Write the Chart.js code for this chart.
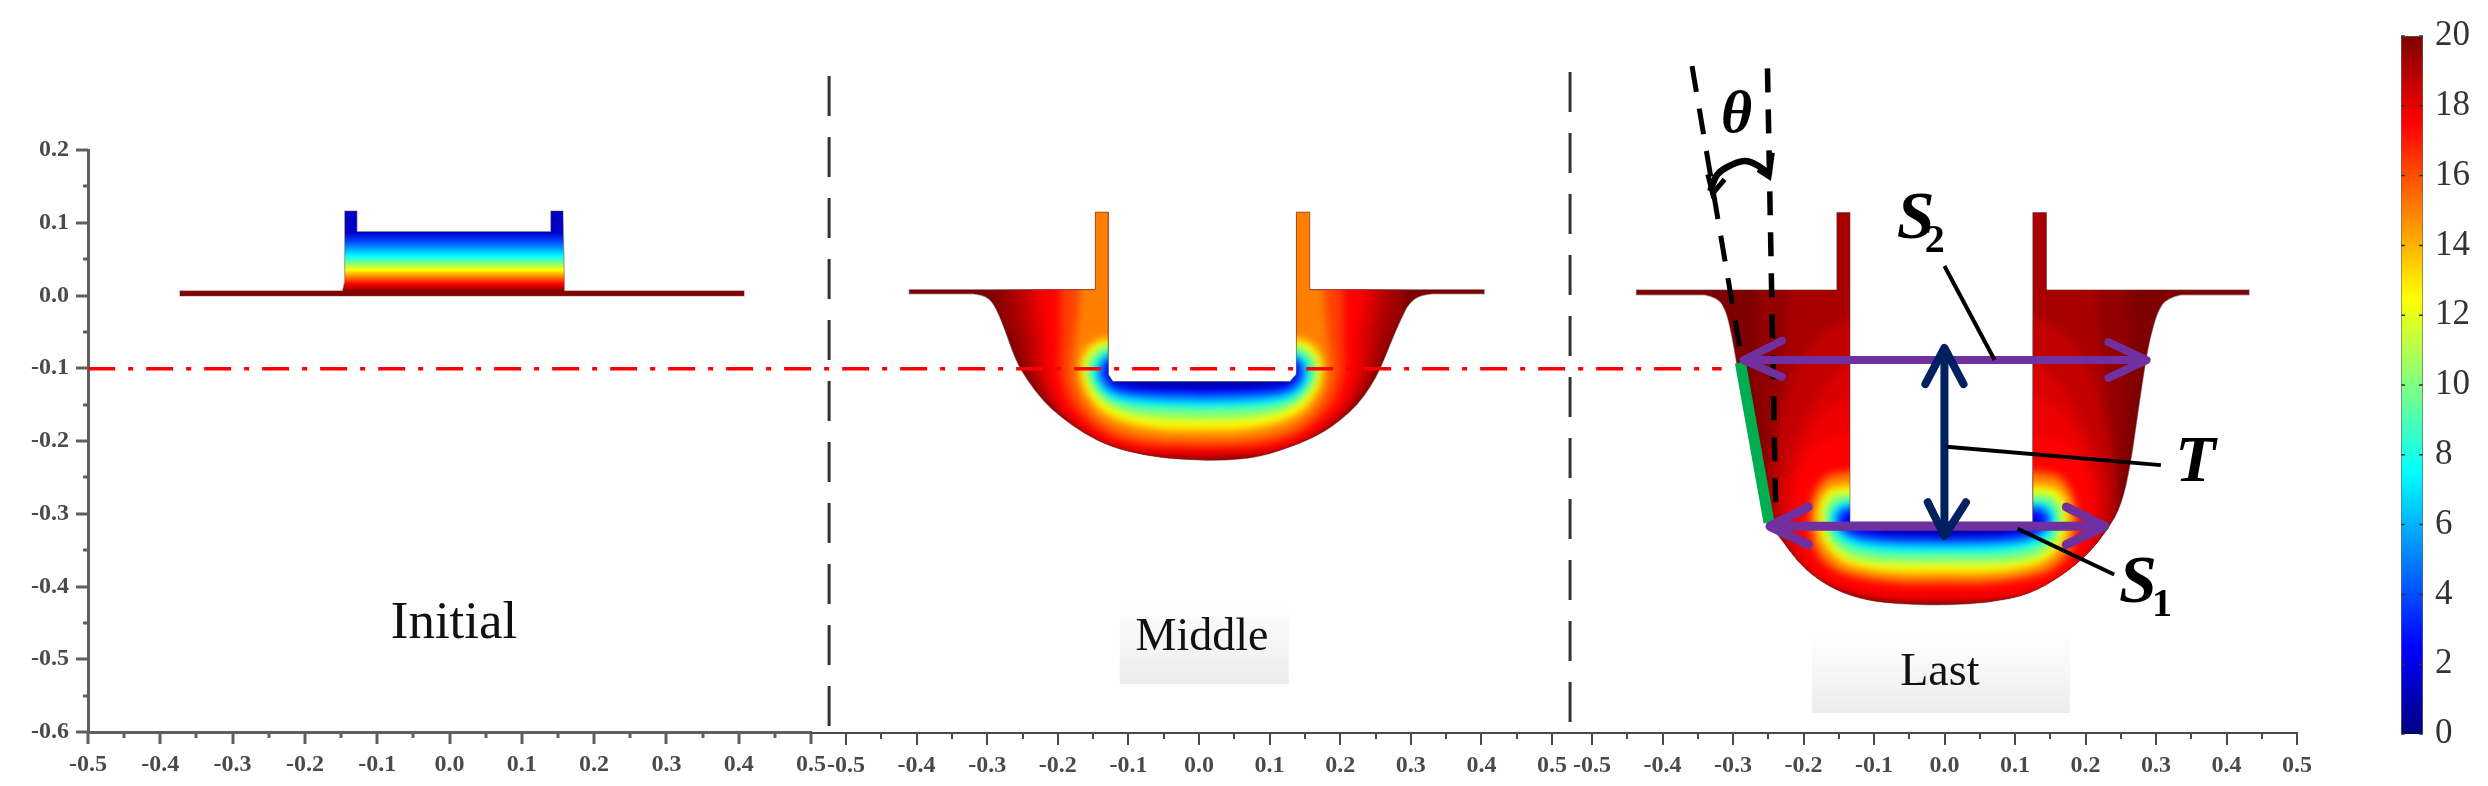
<!DOCTYPE html>
<html lang="en">

<head>
  <meta charset="UTF-8">
  <title>Initial, Middle, Last</title>
  <script src="https://cdn.jsdelivr.net/npm/chart.js@4/dist/chart.umd.min.js"></script>
  <style>
    html, body { margin: 0; background: #fff; }
    main { position: relative; width: 2488px; height: 786px; overflow: hidden; }
    canvas { position: absolute; left: 0; top: 0; }
  </style>
</head>

<body>
  <main id="app"></main>

  <script>
    // axis ticks
    const xTicks = [-0.5, -0.4, -0.3, -0.2, -0.1, 0, 0.1, 0.2, 0.3, 0.4, 0.5];
    const xMinor = [-0.45, -0.35, -0.25, -0.15, -0.05, 0.05, 0.15, 0.25, 0.35, 0.45];
    const yTicks = [-0.6, -0.5, -0.4, -0.3, -0.2, -0.1, 0, 0.1, 0.2];
    const yMinor = [-0.55, -0.45, -0.35, -0.25, -0.15, -0.05, 0.05, 0.15];
    const barTicks = [0, 2, 4, 6, 8, 10, 12, 14, 16, 18, 20];

    // colour bar, value -> colour
    const barStops = [0, 2.5, 5, 7.5, 10, 12.5, 15, 17.5, 20];
    const barColors = [[0, 0, 127], [0, 0, 255], [0, 128, 255], [0, 255, 255], [128, 255, 128],
      [255, 255, 0], [255, 128, 0], [255, 0, 0], [127, 0, 0]];

    // Initial: outline and the value at each height
    const initialRim = [[-0.373, -0.0006], [0.4075, -0.0006], [0.4075, 0.0064], [0.159, 0.0064], [0.159, 0.019],
      [0.157, 0.116], [0.14, 0.116], [0.14, 0.088], [-0.128, 0.088], [-0.128, 0.116], [-0.145, 0.116],
      [-0.145, 0.019], [-0.148, 0.0064], [-0.373, 0.0064]];
    const initialHeights = [0.116, 0.086, 0.0733, 0.054, 0.0446, 0.035, 0.0255, 0.016, 0.0064];
    const initialValues = [1.2, 1.5, 4, 7.5, 10, 12.5, 15, 17.5, 19.8];

    // Middle: curved bowl, straight rim, then left half contours as [half width, y]
    const middleBowl = [[-0.32, 0.0027], [-0.3048, 0.0014], [-0.2906, -0.01], [-0.2764, -0.0422], [-0.2599, -0.088], [-0.2434, -0.1155],
      [-0.2198, -0.1453], [-0.196, -0.1659], [-0.1631, -0.1888], [-0.1254, -0.2072], [-0.0781, -0.2187], [-0.031, -0.2242],
      [0.0304, -0.2265], [0.085, -0.2215], [0.1296, -0.2072], [0.1532, -0.1981], [0.1768, -0.1866], [0.2004, -0.1706], [0.224, -0.1499],
      [0.2429, -0.1247], [0.2571, -0.0995], [0.2712, -0.0651], [0.2854, -0.033], [0.2972, -0.01], [0.3138, 0.0014], [0.33, 0.0027]];
    const middleRim = [[0.404, 0.0027], [0.404, 0.0083], [0.157, 0.0083], [0.157, 0.1147], [0.138, 0.1147], [0.138, -0.108],
      [0.129, -0.118], [-0.122, -0.118], [-0.1286, -0.108], [-0.1286, 0.1147], [-0.1467, 0.1147], [-0.1467, 0.0083],
      [-0.4105, 0.0083], [-0.4105, 0.0027]];
    const mid194 = [[0.285, 0.2], [0.285, -0.02], [0.268, -0.06], [0.25, -0.1018], [0.226, -0.14], [0.197, -0.168], [0.158, -0.1945],
      [0.105, -0.214], [0, -0.2235]];
    const mid188 = [[0.2639, 0.2], [0.2639, -0.01], [0.2521, -0.0559], [0.2403, -0.1018], [0.2191, -0.1384], [0.1906, -0.1659],
      [0.153, -0.1911], [0.1011, -0.2118], [0, -0.2219]];
    const mid181 = [[0.246, 0.2], [0.246, -0.01], [0.237, -0.0559], [0.23, -0.1018], [0.212, -0.141], [0.186, -0.168], [0.148, -0.1935],
      [0.096, -0.2115], [0, -0.218]];
    const mid175 = [[0.2285, 0.2], [0.2285, -0.01], [0.2215, -0.0559], [0.2191, -0.1018], [0.205, -0.1431], [0.1812, -0.1706],
      [0.1435, -0.1958], [0.0915, -0.2109], [0, -0.2141]];
    const mid162 = [[0.2, 0.2], [0.2, -0.01], [0.2, -0.0559], [0.2014, -0.1018], [0.191, -0.1385], [0.167, -0.168], [0.13, -0.192],
      [0.078, -0.2045], [0, -0.207]];
    const mid150 = [[0.1718, 0.2], [0.1742, -0.01], [0.179, -0.0559], [0.1837, -0.1018], [0.1766, -0.1338], [0.153, -0.1659],
      [0.1152, -0.188], [0.0633, -0.198], [0, -0.2003]];
    const mid125 = [[0.1326, -0.0582], [0.153, -0.0651], [0.1671, -0.0811], [0.1709, -0.1018], [0.1647, -0.1293], [0.1435, -0.1568],
      [0.1057, -0.1751], [0.0585, -0.1834], [0, -0.1852]];
    const mid100 = [[0.1326, -0.0674], [0.1482, -0.0743], [0.16, -0.0857], [0.1633, -0.1041], [0.1567, -0.1247], [0.1388, -0.1453],
      [0.1057, -0.1614], [0.0585, -0.1683], [0, -0.1697]];
    const mid75 = [[0.1326, -0.0766], [0.1435, -0.0825], [0.153, -0.0949], [0.1554, -0.1063], [0.1482, -0.1225], [0.1294, -0.1408],
      [0.0964, -0.15], [0.0538, -0.1531], [0, -0.1545]];
    const mid50 = [[0.1326, -0.0825], [0.1397, -0.0889], [0.1468, -0.1018], [0.1459, -0.1132], [0.1341, -0.1293], [0.1152, -0.1375],
      [0.0869, -0.142], [0.0491, -0.1444], [0, -0.1453]];
    const mid25 = [[0.1326, -0.0889], [0.1378, -0.0949], [0.1397, -0.1063], [0.1319, -0.1201], [0.1152, -0.1283], [0.0869, -0.132],
      [0, -0.1348]];
    const mid05 = [[0.1319, -0.1109], [0.1152, -0.1201], [0.0585, -0.1247], [0, -0.1256]];
    const middleLevels = [19.4, 18.8, 18.1, 17.5, 16.25, 15, 12.5, 10, 7.5, 5, 2.5, 0.5];
    const middleContours = [mid194, mid188, mid181, mid175, mid162, mid150, mid125, mid100, mid75, mid50, mid25, mid05];

    // Last: same layout as Middle
    const lastBowl = [[-0.34, 0.0013], [-0.322, -0.002], [-0.31, -0.02], [-0.302, -0.052], [-0.295, -0.0915], [-0.285, -0.1445],
      [-0.271, -0.2175], [-0.258, -0.29], [-0.25, -0.3127], [-0.2335, -0.331], [-0.2098, -0.3631], [-0.1815, -0.3884],
      [-0.1436, -0.409], [-0.0963, -0.4205], [-0.0444, -0.4236], [0.0029, -0.4245], [0.064, -0.421], [0.12, -0.41], [0.168, -0.383],
      [0.205, -0.353], [0.232, -0.32], [0.251, -0.287], [0.264, -0.231], [0.2746, -0.158], [0.285, -0.0915], [0.2915, -0.058],
      [0.302, -0.022], [0.315, -0.003], [0.335, 0.0013]];
    const lastRim = [[0.432, 0.0013], [0.432, 0.008], [0.1444, 0.008], [0.1444, 0.114], [0.1254, 0.114], [0.1254, -0.3103],
      [-0.134, -0.3103], [-0.134, 0.114], [-0.1526, 0.114], [-0.1526, 0.008], [-0.437, 0.008], [-0.437, 0.0013]];
    const last196 = [[0.262, 0.2], [0.262, 0.008], [0.265, -0.098], [0.255, -0.198], [0.25, -0.264], [0.24, -0.3235], [0.2, -0.375],
      [0.13, -0.41], [0.07, -0.419], [0, -0.421]];
    const last192 = [[0.218, 0.2], [0.218, 0.008], [0.228, -0.098], [0.24, -0.198], [0.2455, -0.264], [0.24, -0.3235], [0.2, -0.38],
      [0.13, -0.41], [0.0692, -0.4165], [0, -0.4185]];
    const last187 = [[0.134, -0.03], [0.18, -0.06], [0.215, -0.12], [0.235, -0.2], [0.24, -0.264], [0.234, -0.3169], [0.2, -0.374],
      [0.125, -0.407], [0.066, -0.4155], [0, -0.4165]];
    const last182 = [[0.134, -0.0915], [0.1573, -0.1114], [0.19, -0.1578], [0.2149, -0.2108], [0.23, -0.2639], [0.2268, -0.3104],
      [0.2032, -0.3678], [0.1166, -0.4043], [0.0624, -0.414], [0, -0.415]];
    const last178 = [[0.134, -0.14], [0.166, -0.157], [0.197, -0.2], [0.214, -0.25], [0.22, -0.29], [0.217, -0.32], [0.196, -0.368],
      [0.135, -0.4], [0.06, -0.4125], [0, -0.413]];
    const last175 = [[0.134, -0.1889], [0.1749, -0.2027], [0.2032, -0.2393], [0.2127, -0.2852], [0.2079, -0.3264], [0.189, -0.3678],
      [0.1559, -0.3952], [0.1134, -0.4067], [0.0565, -0.4113], [0, -0.4113]];
    const last150 = [[0.134, -0.2416], [0.1654, -0.2485], [0.1843, -0.276], [0.189, -0.3104], [0.1796, -0.3517], [0.1512, -0.377],
      [0.1086, -0.3884], [0.0565, -0.394], [0, -0.394]];
    const last125 = [[0.134, -0.26], [0.1607, -0.2646], [0.1749, -0.2829], [0.1773, -0.3104], [0.1677, -0.3425], [0.1418, -0.3654],
      [0.1039, -0.376], [0.0565, -0.3806], [0, -0.3806]];
    const last100 = [[0.134, -0.2714], [0.1559, -0.2751], [0.1677, -0.2921], [0.1677, -0.3104], [0.1607, -0.3356], [0.1369, -0.3563],
      [0.1, -0.3654], [0.0565, -0.3677], [0, -0.3677]];
    const last75 = [[0.134, -0.2829], [0.1489, -0.2852], [0.1592, -0.299], [0.1592, -0.3104], [0.1512, -0.331], [0.1275, -0.3448],
      [0.0953, -0.3507], [0.0565, -0.353], [0, -0.353]];
    const last50 = [[0.134, -0.2889], [0.1455, -0.2921], [0.1526, -0.3013], [0.1526, -0.3104], [0.1418, -0.3264], [0.1228, -0.3356],
      [0.0906, -0.3411], [0.0565, -0.343], [0, -0.3439]];
    const last25 = [[0.134, -0.2944], [0.1427, -0.299], [0.1465, -0.3104], [0.1369, -0.3219], [0.1181, -0.3287], [0.0858, -0.332],
      [0, -0.3334]];
    const last05 = [[0.134, -0.3104], [0.0858, -0.3242], [0, -0.3274]];
    const lastLevels = [19.6, 19.2, 18.7, 18.2, 17.85, 17.5, 15, 12.5, 10, 7.5, 5, 2.5, 0.5];
    const lastContours = [last196, last192, last187, last182, last178, last175, last150, last125, last100, last75, last50, last25, last05];

    // marks on top of the panels, all in the x and y units of the Last panel
    const cutLineX = [-2.633, -0.316];
    const cutLineY = [-0.1, -0.1];
    const divider1X = [-1.582, -1.582];
    const divider1Y = [0.3026, -0.6025];
    const divider2X = [-0.531, -0.531];
    const divider2Y = [0.308, -0.6025];
    const axisJoin1X = [-1.608, -1.558];
    const axisJoin2X = [-0.557, -0.5];
    const axisJoinY = [-0.601, -0.601];
    const thetaSlant = [[-0.358, 0.316], [-0.288, -0.0849]];
    const thetaUpright = [[-0.251, 0.313], [-0.239, -0.31]];
    const thetaArc = [[-0.3322, 0.1439], [-0.322, 0.1671], [-0.3017, 0.1803], [-0.2814, 0.1856], [-0.261, 0.177], [-0.2488, 0.1671]];
    const thetaHeadL = [[-0.3356, 0.1671], [-0.3288, 0.1406], [-0.3119, 0.1604]];
    const thetaHeadR = [[-0.2644, 0.1737], [-0.2488, 0.1638], [-0.2441, 0.1969]];
    const wallSegment = [[-0.2895, -0.0915], [-0.2488, -0.3116]];
    const s2Line = [[-0.2848, -0.0882], [0.2868, -0.0882]];
    const s2HeadL = [[-0.2305, -0.0617], [-0.2848, -0.0882], [-0.2305, -0.1114]];
    const s2HeadR = [[0.2326, -0.0636], [0.2868, -0.0882], [0.2326, -0.1127]];
    const s1Line = [[-0.2475, -0.3169], [0.2271, -0.3169]];
    const s1HeadL = [[-0.1932, -0.2904], [-0.2475, -0.3169], [-0.1932, -0.3421]];
    const s1HeadR = [[0.1729, -0.2904], [0.2271, -0.3169], [0.1729, -0.3421]];
    const tLine = [[0, -0.0716], [0, -0.3302]];
    const tHeadTop = [[-0.0271, -0.1213], [0, -0.0716], [0.0271, -0.1213]];
    const tHeadBottom = [[-0.0237, -0.2838], [0, -0.3302], [0.0305, -0.2838]];
    const s2Leader = [[0, 0.0411], [0.0712, -0.0882]];
    const tLeader = [[0.0034, -0.2075], [0.307, -0.2327]];
    const s1Leader = [[0.1037, -0.3202], [0.2407, -0.3832]];
    const stageNames = ['Initial', 'Middle', 'Last'];
    const stageX = [-2.114, -1.053, -0.0065];
    const stageY = [-0.451, -0.47, -0.518];
    const stageBoxes = [[-1.1697, -0.93, -0.4168, -0.5337], [-0.188, 0.178, -0.4663, -0.5736]];

    const AXIS_GREY = '#5f5f5f';
    const TICK_FONT = { family: '"Liberation Serif"', size: 24, weight: 'bold' };

    function mount() {
      const c = document.createElement('canvas');
      c.width = 2488; c.height = 786;
      document.getElementById('app').appendChild(c);
      return c.getContext('2d');
    }

    function jet(v) {
      let i = 0;
      while (i < barStops.length - 2 && v > barStops[i + 1]) i++;
      const t = Math.min(1, Math.max(0, (v - barStops[i]) / (barStops[i + 1] - barStops[i])));
      const rgb = barColors[i].map((c, k) => Math.round(c + (barColors[i + 1][k] - c) * t));
      return `rgb(${rgb.join(',')})`;
    }

    const toPoints = (pairs) => pairs.map(([x, y]) => ({ x, y }));

    // left half contour + its mirror about the centre of the part
    function closeContour(half, centre) {
      const left = half.map(([w, y]) => ({ x: centre - w, y }));
      const right = half.slice().reverse().map(([w, y]) => ({ x: centre + w, y }));
      return left.concat(right);
    }

    // clip to the part, soften the bands, and finish with its thin edge
    function fieldPlugin(bowl, rim, blur) {
      const trace = (chart) => {
        const { ctx, scales } = chart;
        const px = ([x, y]) => [scales.x.getPixelForValue(x), scales.y.getPixelForValue(y)];
        ctx.beginPath();
        const b = bowl.map(px);
        b.forEach((p, i) => {
          if (i === 0) ctx.moveTo(p[0], p[1]);
          else if (i === b.length - 1) ctx.quadraticCurveTo(b[i - 1][0], b[i - 1][1], p[0], p[1]);
          else if (i > 1) ctx.quadraticCurveTo(b[i - 1][0], b[i - 1][1], (b[i - 1][0] + p[0]) / 2, (b[i - 1][1] + p[1]) / 2);
        });
        rim.map(px).forEach((p, i) => {
          if (i === 0 && !b.length) ctx.moveTo(p[0], p[1]);
          else ctx.lineTo(p[0], p[1]);
        });
        ctx.closePath();
      };
      return {
        id: 'field',
        beforeDatasetsDraw(chart) {
          chart.ctx.save();
          trace(chart);
          chart.ctx.clip();
          if (blur) chart.ctx.filter = `blur(${blur}px)`;
        },
        afterDatasetsDraw(chart) {
          chart.ctx.restore();
          trace(chart);
          chart.ctx.strokeStyle = 'rgba(90,60,60,0.45)';
          chart.ctx.lineWidth = 1.2;
          chart.ctx.stroke();
        }
      };
    }

    // Origin style ticks: long at labels, short in between
    const tickMarks = {
      id: 'tickMarks',
      afterDraw(chart, args, opts) {
        const { ctx, scales } = chart;
        ctx.save();
        ctx.strokeStyle = opts.color;
        ctx.lineWidth = opts.width;
        const mark = (scale, values, len) => values.forEach((v) => {
          const p = Math.round(scale.getPixelForValue(v));
          ctx.beginPath();
          if (scale.axis === 'x') {
            ctx.moveTo(p, scale.top); ctx.lineTo(p, scale.top + len);
          } else {
            ctx.moveTo(scale.right, p); ctx.lineTo(scale.right - len, p);
          }
          ctx.stroke();
        });
        mark(scales.x, xTicks, 12);
        mark(scales.x, xMinor, 6);
        if (scales.y.options.display) {
          mark(scales.y, yTicks, 12);
          mark(scales.y, yMinor, 5);
        }
        ctx.restore();
      }
    };

    function panel(ctx, box, datasets, plugin, border) {
      const showY = box.showY;
      new Chart(ctx, {
        type: 'scatter',
        data: { datasets },
        options: {
          responsive: false,
          animation: false,
          layout: { padding: { left: showY ? box.left - 70 : box.left, right: 2488 - box.right, top: 150, bottom: 2 } },
          plugins: { legend: { display: false }, tooltip: { enabled: false }, tickMarks: { color: border.color, width: border.width } },
          scales: {
            x: {
              type: 'linear', min: -0.5, max: 0.5,
              grid: { display: false, drawTicks: false },
              border: { display: true, color: border.color, width: border.width },
              afterBuildTicks: (s) => { s.ticks = xTicks.map((value) => ({ value })); },
              afterFit: (s) => { s.height = box.bottom; },
              ticks: { autoSkip: false, maxRotation: 0, padding: 18, color: '#4a4a4a', font: TICK_FONT, callback: (v) => v.toFixed(1) }
            },
            y: {
              type: 'linear', min: -0.6, max: 0.2, display: showY,
              grid: { display: false, drawTicks: false },
              border: { display: true, color: border.color, width: border.width },
              afterBuildTicks: (s) => { s.ticks = yTicks.map((value) => ({ value })); },
              afterFit: (s) => { s.width = showY ? 70 : 0; },
              ticks: { autoSkip: false, padding: 19, color: '#4a4a4a', font: TICK_FONT, callback: (v) => v.toFixed(1) }
            }
          }
        },
        plugins: [plugin, tickMarks]
      });
    }

    const band = (data, color, tension) => ({ data, showLine: true, fill: 'shape', backgroundColor: color, borderWidth: 0, pointRadius: 0, tension: tension || 0 });

    // innermost band goes first, Chart.js paints dataset 0 last
    function bands(levels, contours, centre) {
      const sets = levels.map((v, i) => band(closeContour(contours[i], centre), jet(v), 0.3)).reverse();
      sets.push(band(toPoints([[-0.5, -0.6], [0.5, -0.6], [0.5, 0.2], [-0.5, 0.2]]), jet(20)));
      return sets;
    }

    // Initial panel, banded by height
    const initialFill = (c) => {
      const { chart } = c;
      if (!chart.chartArea) return jet(20);
      const y = chart.scales.y;
      const a = y.getPixelForValue(initialHeights[0]), b = y.getPixelForValue(initialHeights[initialHeights.length - 1]);
      const g = chart.ctx.createLinearGradient(0, a, 0, b);
      initialHeights.forEach((h, i) => g.addColorStop((y.getPixelForValue(h) - a) / (b - a), jet(initialValues[i])));
      return g;
    };
    panel(mount(), { left: 88, right: 811, bottom: 52, showY: true },
      [band(toPoints(initialRim), initialFill)], fieldPlugin([], initialRim, 0), { color: AXIS_GREY, width: 3 });

    panel(mount(), { left: 846, right: 1552, bottom: 51, showY: false },
      bands(middleLevels, middleContours, 0.004), fieldPlugin(middleBowl, middleRim, 4), { color: '#4a4a4a', width: 2 });

    panel(mount(), { left: 1592, right: 2297, bottom: 51, showY: false },
      bands(lastLevels, lastContours, -0.002), fieldPlugin(lastBowl, lastRim, 4), { color: '#4a4a4a', width: 2 });

    // colour bar
    const barFill = (c) => {
      const { chart } = c;
      if (!chart.chartArea) return jet(20);
      const y = chart.scales.y;
      const g = chart.ctx.createLinearGradient(0, y.getPixelForValue(20), 0, y.getPixelForValue(0));
      barStops.forEach((v, i) => g.addColorStop(1 - v / 20, jet(v)));
      return g;
    };
    const barMarks = {
      id: 'barMarks',
      afterDatasetsDraw(chart) {
        const { ctx, scales, chartArea } = chart;
        ctx.save();
        ctx.strokeStyle = '#333';
        ctx.lineWidth = 1.5;
        barTicks.forEach((v) => {
          const p = scales.y.getPixelForValue(v);
          ctx.beginPath();
          ctx.moveTo(chartArea.left, p); ctx.lineTo(chartArea.left + 4, p);
          ctx.moveTo(chartArea.right - 4, p); ctx.lineTo(chartArea.right, p);
          ctx.stroke();
        });
        ctx.restore();
      }
    };
    new Chart(mount(), {
      type: 'bar',
      data: { labels: ['field'], datasets: [{ data: [20], backgroundColor: barFill, borderColor: '#666', borderWidth: 1, barPercentage: 1, categoryPercentage: 1 }] },
      options: {
        responsive: false,
        animation: false,
        layout: { padding: { left: 2401, right: 2, top: 36, bottom: 52 } },
        plugins: { legend: { display: false }, tooltip: { enabled: false } },
        scales: {
          x: { display: false },
          y: {
            position: 'right', min: 0, max: 20,
            grid: { display: false, drawTicks: false },
            border: { display: false },
            afterBuildTicks: (s) => { s.ticks = barTicks.map((value) => ({ value })); },
            afterFit: (s) => { s.width = 63; },
            ticks: { autoSkip: false, padding: 12, color: '#333', font: { family: '"Liberation Serif"', size: 35 } }
          }
        }
      },
      plugins: [barMarks]
    });

    // overlay: everything that runs across panels or sits on top of Last
    const path = (data, color, width, dash, tension, cap) => ({
      data, showLine: true, borderColor: color, borderWidth: width, borderDash: dash || [], tension: tension || 0,
      pointRadius: 0, fill: false, borderCapStyle: cap || 'butt', borderJoinStyle: cap ? 'round' : 'miter'
    });
    const zip = (xs, ys) => xs.map((x, i) => ({ x, y: ys[i] }));
    const PURPLE = '#7030a0', NAVY = '#002060';

    const overlayText = {
      id: 'overlayText',
      beforeDatasetsDraw(chart) {
        const { ctx, scales: { x, y } } = chart;
        stageBoxes.forEach(([x0, x1, y0, y1]) => {
          const top = y.getPixelForValue(y0), bottom = y.getPixelForValue(y1);
          const g = ctx.createLinearGradient(0, top, 0, bottom);
          g.addColorStop(0, '#ffffff');
          g.addColorStop(1, '#ececec');
          ctx.fillStyle = g;
          ctx.fillRect(x.getPixelForValue(x0), top, x.getPixelForValue(x1) - x.getPixelForValue(x0), bottom - top);
        });
      },
      afterDatasetsDraw(chart) {
        const { ctx, scales: { x, y } } = chart;
        const put = (text, vx, vy, font, color) => {
          ctx.font = font;
          ctx.fillStyle = color;
          ctx.textAlign = 'center';
          ctx.textBaseline = 'middle';
          ctx.fillText(text, x.getPixelForValue(vx), y.getPixelForValue(vy));
        };
        ctx.save();
        put(stageNames[0], stageX[0], stageY[0], '53px "Liberation Serif"', '#111');
        put(stageNames[1], stageX[1], stageY[1], '46px "Liberation Serif"', '#111');
        put(stageNames[2], stageX[2], stageY[2], '46px "Liberation Serif"', '#111');
        put('θ', -0.295, 0.2466, 'italic bold 60px "Liberation Serif"', '#000');
        put('S', -0.0407, 0.1041, 'italic bold 68px "Liberation Serif"', '#000');
        put('2', -0.0136, 0.0743, 'bold 40px "Liberation Serif"', '#000');
        put('T', 0.356, -0.2307, 'italic bold 66px "Liberation Serif"', '#000');
        put('S', 0.2746, -0.3965, 'italic bold 68px "Liberation Serif"', '#000');
        put('1', 0.3085, -0.4263, 'bold 40px "Liberation Serif"', '#000');
        ctx.restore();
      }
    };

    new Chart(mount(), {
      type: 'scatter',
      data: {
        datasets: [
          path(toPoints(s2Leader), '#000', 4),
          path(toPoints(tLeader), '#000', 4),
          path(toPoints(s1Leader), '#000', 4),
          path(toPoints(tLine), NAVY, 8),
          path(toPoints(tHeadTop), NAVY, 8, null, 0, 'round'),
          path(toPoints(tHeadBottom), NAVY, 8, null, 0, 'round'),
          path(toPoints(s2Line), PURPLE, 8),
          path(toPoints(s2HeadL), PURPLE, 8, null, 0, 'round'),
          path(toPoints(s2HeadR), PURPLE, 8, null, 0, 'round'),
          path(toPoints(s1Line), PURPLE, 9),
          path(toPoints(s1HeadL), PURPLE, 9, null, 0, 'round'),
          path(toPoints(s1HeadR), PURPLE, 9, null, 0, 'round'),
          path(toPoints(wallSegment), '#00ad50', 11),
          path(toPoints(thetaArc), '#000', 6.5, null, 0.4),
          path(toPoints(thetaHeadL), '#000', 5),
          path(toPoints(thetaHeadR), '#000', 5),
          path(toPoints(thetaSlant), '#000', 5, [26, 17]),
          path(toPoints(thetaUpright), '#000', 5.5, [24, 17]),
          path(zip(cutLineX, cutLineY), '#ff0000', 3.5, [27, 13, 5, 13]),
          path(zip(divider1X, divider1Y), '#333', 3, [40, 21]),
          path(zip(divider2X, divider2Y), '#333', 3, [40, 21]),
          path(zip(axisJoin1X, axisJoinY), '#4a4a4a', 2),
          path(zip(axisJoin2X, axisJoinY), '#4a4a4a', 2)
        ]
      },
      options: {
        responsive: false,
        animation: false,
        layout: { padding: 0 },
        plugins: { legend: { display: false }, tooltip: { enabled: false } },
        scales: {
          x: { type: 'linear', display: false, min: -2.758, max: 0.771 },
          y: { type: 'linear', display: false, min: -0.674, max: 0.407 }
        }
      },
      plugins: [overlayText]
    });
  </script>
</body>

</html>
